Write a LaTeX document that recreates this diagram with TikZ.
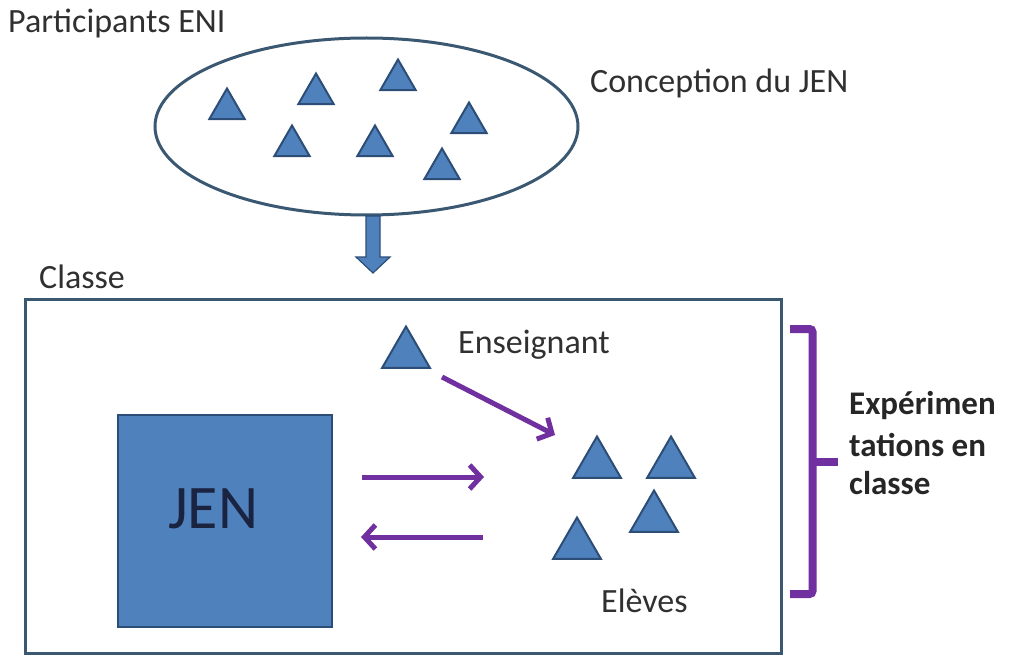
\documentclass[tikz,border=0pt]{standalone}
\usepackage{fontspec}
\setmainfont{Carlito}
\usetikzlibrary{shapes.geometric,arrows.meta}
\definecolor{triblue}{HTML}{4F81BD}
\definecolor{triedge}{HTML}{2C4D75}
\definecolor{framec}{HTML}{3B5872}
\definecolor{purp}{HTML}{7030A0}
\definecolor{txt}{HTML}{303030}
\definecolor{jentxt}{HTML}{1A2340}
\begin{document}
\begin{tikzpicture}[x=1pt,y=-1pt,
  tri/.style={regular polygon, regular polygon sides=3, draw=triedge, fill=triblue, line width=2pt, inner sep=0pt, minimum size=41pt},
  bigtri/.style={tri, minimum size=55pt},
  lbl/.style={anchor=base west, inner sep=0pt, text=txt, font=\fontsize{34}{40}\selectfont},
  parrow/.style={draw=purp, line width=5pt, -{Straight Barb[length=11pt,width=24pt,line width=5pt]}},
  brk/.style={draw=purp, line width=8pt}
]
\useasboundingbox (0,0) rectangle (1011,655);

% top ellipse
\node[ellipse, draw=framec, line width=3pt, minimum width=423pt, minimum height=177pt, inner sep=0pt] (eni) at (366.5,126.5) {};
\node[lbl] (lpart) at (8,33) {Participants ENI};
\node[lbl] (lconc) at (590,93) {Conception du JEN};

\node[tri] (t1) at (227,109) {};
\node[tri] (t2) at (316,94) {};
\node[tri] (t3) at (398,80) {};
\node[tri] (t4) at (292,146) {};
\node[tri] (t5) at (375,146) {};
\node[tri] (t6) at (469,123) {};
\node[tri] (t7) at (442,169) {};

% down block arrow
\draw[draw=triedge, fill=triblue, line width=1.2pt]
  (366,216) -- (380,216) -- (380,257) -- (390,257) -- (373,273) -- (356,257) -- (366,257) -- cycle;

% class frame
\node[lbl] (lclasse) at (39,288) {Classe};
\node[draw=framec, line width=3pt, minimum width=756pt, minimum height=354pt, inner sep=0pt] (classe) at (403,476) {};

% JEN box
\node[draw=triedge, fill=triblue, line width=2pt, minimum width=214pt, minimum height=212pt, inner sep=0pt] (jen) at (225,521) {};
\node[anchor=base west, inner sep=0pt, text=jentxt, font=\fontsize{62}{70}\selectfont] (jenlbl) at (168,528) {JEN};

% teacher and pupils
\node[bigtri] (ens) at (406,354) {};
\node[lbl] (lens) at (458,353) {Enseignant};
\node[bigtri] (ea) at (597,464) {};
\node[bigtri] (eb) at (671,464) {};
\node[bigtri] (ec) at (654,518) {};
\node[bigtri] (ed) at (577,545) {};
\node[lbl] (lelev) at (601,612) {Elèves};

% purple arrows
\coordinate (d1) at (442,377);
\coordinate (d2) at (555,435);
\coordinate (r1) at (362,477);
\coordinate (r2) at (484,477);
\coordinate (l1) at (483,537);
\coordinate (l2) at (361,537);
\draw[parrow] (d1) -- (d2);
\draw[parrow] (r1) -- (r2);
\draw[parrow] (l1) -- (l2);

% bracket
\coordinate (b1) at (790,329);
\coordinate (b2) at (812.5,329);
\coordinate (b3) at (812.5,594);
\coordinate (b4) at (790,594);
\coordinate (bm) at (812.5,462);
\coordinate (bt) at (838,462);
\draw[brk, rounded corners=3pt] (b1) -- (b2) -- (b3) -- (b4);
\draw[brk] (bm) -- (bt);

\node[lbl, font=\bfseries\fontsize{33}{40}\selectfont, text=black!85] (lexp1) at (849,414) {Expérimen};
\node[lbl, font=\bfseries\fontsize{33}{40}\selectfont, text=black!85] (lexp2) at (849,456) {tations en};
\node[lbl, font=\bfseries\fontsize{33}{40}\selectfont, text=black!85] (lexp3) at (849,494) {classe};
\end{tikzpicture}
\end{document}
